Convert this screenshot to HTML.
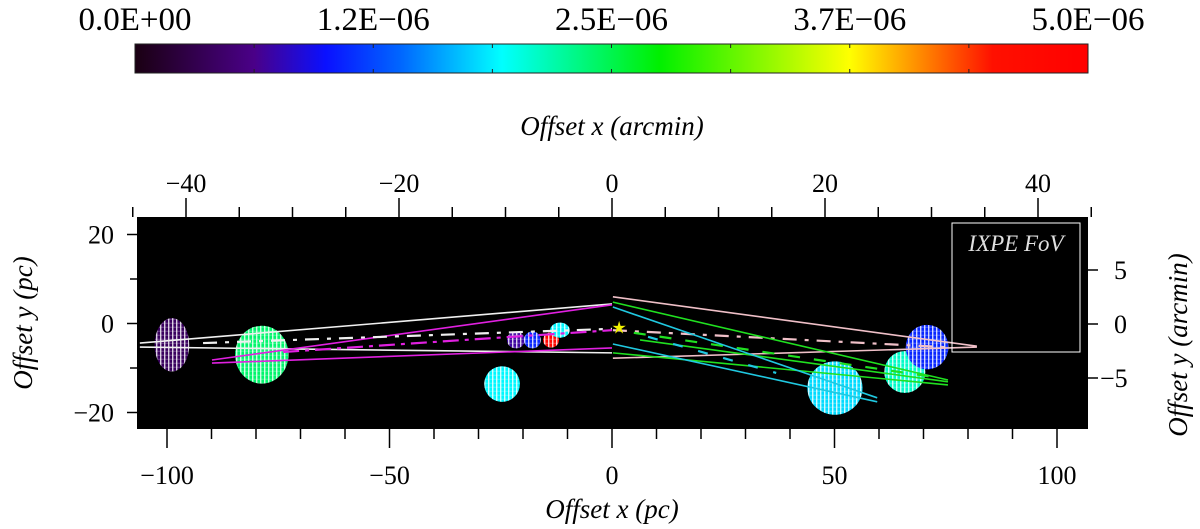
<!DOCTYPE html>
<html><head><meta charset="utf-8"><style>
html,body{margin:0;padding:0;background:#fff}
svg{display:block}
text{font-family:"Liberation Serif",serif;fill:#000}
</style></head><body>
<svg id="chart" width="1200" height="529" viewBox="0 0 1200 529" xmlns="http://www.w3.org/2000/svg">
<defs>
<linearGradient id="cmap" x1="0" x2="1" y1="0" y2="0">
<stop offset="0" stop-color="#1a0012"/><stop offset="0.125" stop-color="#4a0088"/>
<stop offset="0.2" stop-color="#0a10ff"/><stop offset="0.28" stop-color="#0068ff"/>
<stop offset="0.385" stop-color="#00ffff"/><stop offset="0.55" stop-color="#00f000"/>
<stop offset="0.75" stop-color="#ffff00"/><stop offset="0.83" stop-color="#ff8000"/>
<stop offset="0.9" stop-color="#ff1000"/><stop offset="1" stop-color="#ff0000"/>
</linearGradient>
<pattern id="stripes" width="4" height="4" patternUnits="userSpaceOnUse">
<rect x="0" y="0" width="1.4" height="4" fill="#fff" opacity="0.8"/>
<rect x="0" y="2.8" width="4" height="0.8" fill="#fff" opacity="0.35"/>
</pattern>
</defs>
<g id="colorbar"></g>
<text x="612" y="135" text-anchor="middle" font-size="27" font-style="italic">Offset x (arcmin)</text>
<rect x="137" y="217" width="951" height="212" fill="#000"/>
<g id="blobs"></g>
<g id="lines"></g>
<rect x="952" y="223" width="128" height="129" fill="none" stroke="#fff" stroke-width="1"/>
<text x="1016" y="251" text-anchor="middle" font-size="23" font-style="italic" style="fill:#e0e0e0">IXPE FoV</text>
<g id="axes"></g>
<text x="612" y="518" text-anchor="middle" font-size="27" font-style="italic">Offset x (pc)</text>
<text transform="translate(32,323) rotate(-90)" text-anchor="middle" font-size="27" font-style="italic">Offset y (pc)</text>
<text transform="translate(1187,345) rotate(-90)" text-anchor="middle" font-size="27" font-style="italic">Offset y (arcmin)</text>
</svg>
<script>
const NS="http://www.w3.org/2000/svg";
// colorbar
const cbTicks=["0.0E+00","1.2E\u221206","2.5E\u221206","3.7E\u221206","5.0E\u221206"];
const cbMax=5e-6;
// clouds (pc)
const blobX=[-98.9,-78.7,-24.7,50.1,65.8,70.8,-21.6,-17.9,-13.7,-11.7];
const blobY=[-4.8,-7.0,-13.6,-14.5,-10.9,-5.3,-3.7,-3.7,-3.7,-1.5];
const blobRX=[3.9,6.0,4.0,6.2,4.6,4.8,2.0,1.9,1.8,2.2];
const blobRY=[6.0,6.5,4.0,6.0,4.7,5.0,1.9,1.9,1.7,1.7];
const blobVal=[0.4e-6,2.4e-6,1.9e-6,1.8e-6,2.1e-6,1.1e-6,0.7e-6,1.1e-6,4.8e-6,1.9e-6];
// sight lines (pc): x1,y1,x2,y2
const lineX1=[-106.1,-106.1,-89.9,-89.9,-91.9,-73.9,0.2,0.2,0.2,0.2,0.2,6.3,4.9,0.2,0.2,8.1];
const lineY1=[-4.4,-5.3,-8.2,-8.9,-4.4,-6.4,6.0,-7.8,-1.5,4.8,-6.6,-3.7,-2.1,3.7,-4.6,-3.0];
const lineX2=[0,0,0,0,0,0,82,82,74.6,75.5,75.5,75.5,72.1,59.6,59.6,36.9];
const lineY2=[4.4,-6.6,4.2,-5.5,-1.2,-1.5,-5.1,-5.3,-5.3,-12.7,-13.8,-13.1,-12.0,-16.7,-17.6,-11.1];
const lineColor=["#f0f0f0","#f0f0f0","#e020e0","#e020e0","#f0f0f0","#e020e0","#f0c0c8","#f0c0c8","#f0c0c8","#20e020","#20e020","#20e020","#20e020","#20c8e0","#20c8e0","#20c8e0"];
const lineDash=["","","","","14 8 4 8","16 6 4 6","","","14 8 4 8","","","","12 14","","","10 16"];
const starX=[1.6], starY=[-1.0];
// axes ticks
const xMajor=[-100,-50,0,50,100], xMinor=[-90,-80,-70,-60,-40,-30,-20,-10,10,20,30,40,60,70,80,90];
const yMajor=[20,0,-20], yMinor=[10,-10];
const amMajor=[-40,-20,0,20,40];
const amMinor=[-45,-35,-30,-25,-15,-10,-5,5,10,15,25,30,35,45];
const amYMajor=[5,0,-5];

const X=v=>612+v*4.45, Y=v=>323.5-v*4.45;
const AX=v=>612+v*10.65, AY=v=>324-v*10.8;
const CB=v=>135+(v/cbMax)*953;
function mk(tag,attrs,parent){const e=document.createElementNS(NS,tag);for(const k in attrs)e.setAttribute(k,attrs[k]);parent.appendChild(e);return e;}
function stops(){return [[0,[26,0,18]],[0.125,[74,0,136]],[0.2,[10,16,255]],[0.28,[0,104,255]],[0.385,[0,255,255]],[0.55,[0,240,0]],[0.75,[255,255,0]],[0.83,[255,128,0]],[0.9,[255,16,0]],[1,[255,0,0]]];}
function cmap(v){const t=Math.max(0,Math.min(1,v/cbMax));const s=stops();for(let i=1;i<s.length;i++){if(t<=s[i][0]){const f=(t-s[i-1][0])/(s[i][0]-s[i-1][0]);const c=s[i-1][1].map((a,j)=>Math.round(a+(s[i][1][j]-a)*f));return `rgb(${c})`;}}return "rgb(255,0,0)";}

// colorbar
const cb=document.getElementById('colorbar');
let r=mk('rect',{x:135,y:44,width:953,height:29,fill:'url(#cmap)',stroke:'#222','stroke-width':1},cb);

for(let i=1;i<8;i++){const x=135+i*953/8;mk('line',{x1:x,x2:x,y1:44,y2:48,stroke:'#222'},cb);mk('line',{x1:x,x2:x,y1:69,y2:73,stroke:'#222'},cb);}
cbTicks.forEach((t,i)=>{const v=i*cbMax/4;const e=mk('text',{x:CB(v),y:30,'text-anchor':'middle','font-size':33},cb);e.textContent=t;

});

// blobs
const bg=document.getElementById('blobs');
blobX.forEach((bx,i)=>{const a={cx:X(bx),cy:Y(blobY[i]),rx:blobRX[i]*4.45,ry:blobRY[i]*4.45};
const e=mk('ellipse',Object.assign({fill:cmap(blobVal[i])},a),bg);


mk('ellipse',Object.assign({fill:'url(#stripes)'},a),bg);});

// lines
const lg=document.getElementById('lines');
lineX1.forEach((x1,i)=>{const e=mk('line',{x1:X(x1),y1:Y(lineY1[i]),x2:X(lineX2[i]),y2:Y(lineY2[i]),stroke:lineColor[i],'stroke-width':lineDash[i]?2.2:1.6},lg);
if(lineDash[i])e.setAttribute('stroke-dasharray',lineDash[i]);

});
const sx=X(starX[0]), sy=Y(starY[0]);
let pts=[];for(let k=0;k<10;k++){const a=-Math.PI/2+k*Math.PI/5;const rr=k%2?2.5:7;pts.push((sx+rr*Math.cos(a)).toFixed(1)+','+(sy+rr*Math.sin(a)).toFixed(1));}
const st=mk('polygon',{points:pts.join(' '),fill:'#f0f000'},lg);



// axes
const ag=document.getElementById('axes');
const L=(x1,y1,x2,y2)=>mk('line',{x1,y1,x2,y2,stroke:'#000','stroke-width':1.5},ag);
xMajor.forEach(v=>{L(X(v),429,X(v),448);const t=mk('text',{x:X(v),y:484,'text-anchor':'middle','font-size':26},ag);t.textContent=(v<0?'\u2212':'')+Math.abs(v);

});
xMinor.forEach(v=>L(X(v),429,X(v),439));
yMajor.forEach(v=>{L(127,Y(v),137,Y(v));const t=mk('text',{x:114,y:Y(v)+9,'text-anchor':'end','font-size':26},ag);t.textContent=(v<0?'\u2212':'')+Math.abs(v);

});
yMinor.forEach(v=>L(130,Y(v),137,Y(v)));
amMajor.forEach(v=>{L(AX(v),198,AX(v),217);const t=mk('text',{x:AX(v),y:192,'text-anchor':'middle','font-size':26},ag);t.textContent=(v<0?'\u2212':'')+Math.abs(v);

});
amMinor.forEach(v=>L(AX(v),207,AX(v),217));
amYMajor.forEach(v=>{L(1088,AY(v),1098,AY(v));const t=mk('text',{x:v<0?1100:1114,y:AY(v)+9,'font-size':26},ag);t.textContent=(v<0?'\u2212':'')+Math.abs(v);

});
</script>
</body></html>
